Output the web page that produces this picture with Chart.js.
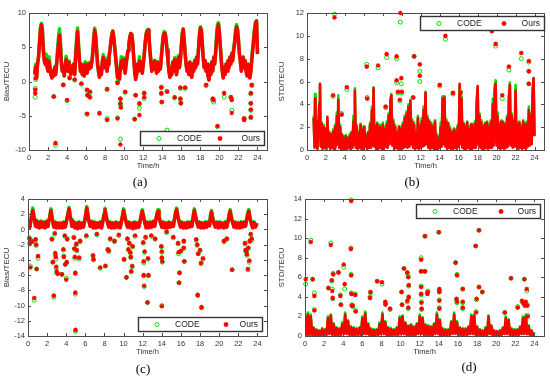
<!DOCTYPE html>
<html>
<head>
<meta charset="utf-8">
<script src="https://cdn.jsdelivr.net/npm/chart.js@4.4.0/dist/chart.umd.min.js"></script>
<style>
  body { margin: 0; width: 550px; height: 384px; background: #fff; position: relative; overflow: hidden; }
  canvas { position: absolute; }
  .tag { position: absolute; font-family: "Liberation Serif", "Times New Roman", serif; font-size: 13px; color: #000; transform: translate(-50%, -50%); will-change: transform; }
</style>
</head>
<body>
<canvas id="chartA" style="left:0;top:0" width="275" height="170"></canvas>
<canvas id="chartB" style="left:275px;top:0" width="275" height="170"></canvas>
<canvas id="chartC" style="left:0;top:186px" width="275" height="170"></canvas>
<canvas id="chartD" style="left:275px;top:186px" width="275" height="170"></canvas>
<div class="tag" style="left:140px;top:182px">(a)</div>
<div class="tag" style="left:412px;top:182px">(b)</div>
<div class="tag" style="left:143px;top:369px">(c)</div>
<div class="tag" style="left:469px;top:367px">(d)</div>
<script>
// -------------------------
// Tick labels
// -------------------------
const xTicks = [0, 2, 4, 6, 8, 10, 12, 14, 16, 18, 20, 22, 24];
const aYTicks = [-10, -5, 0, 5, 10];
const bYTicks = [0, 2, 4, 6, 8, 10, 12];
const cYTicks = [-14, -12, -10, -8, -6, -4, -2, 0, 2, 4];
const dYTicks = [0, 2, 4, 6, 8, 10, 12, 14];

// -------------------------
// (a) Bias - dense band + outliers
// -------------------------
const aTime = [
  0.6,0.7,0.8,0.9,1.0,1.1,1.2,1.3,1.4,1.5,
  1.6,1.7,1.8,1.9,2.0,2.1,2.2,2.3,2.4,2.5,
  2.6,2.7,2.8,2.9,3.0,3.1,3.2,3.3,3.4,3.5,
  3.6,3.7,3.8,3.9,4.0,4.1,4.2,4.3,4.4,4.5,
  4.6,4.7,4.8,4.9,5.0,5.1,5.2,5.3,5.4,5.5,
  5.6,5.7,5.8,5.9,6.0,6.1,6.2,6.3,6.4,6.5,
  6.6,6.7,6.8,6.9,7.0,7.1,7.2,7.3,7.4,7.5,
  7.6,7.7,7.8,7.9,8.0,8.1,8.2,8.3,8.4,8.5,
  8.6,8.7,8.8,8.9,9.0,9.1,9.2,9.3,9.4,9.5,
  9.6,9.7,9.8,9.9,10.0,10.1,10.2,10.3,10.4,10.5,
  10.6,10.7,10.8,10.9,11.0,11.1,11.2,11.3,11.4,11.5,
  11.6,11.7,11.8,11.9,12.0,12.1,12.2,12.3,12.4,12.5,
  12.6,12.7,12.8,12.9,13.0,13.1,13.2,13.3,13.4,13.5,
  13.6,13.7,13.8,13.9,14.0,14.1,14.2,14.3,14.4,14.5,
  14.6,14.7,14.8,14.9,15.0,15.1,15.2,15.3,15.4,15.5,
  15.6,15.7,15.8,15.9,16.0,16.1,16.2,16.3,16.4,16.5,
  16.6,16.7,16.8,16.9,17.0,17.1,17.2,17.3,17.4,17.5,
  17.6,17.7,17.8,17.9,18.0,18.1,18.2,18.3,18.4,18.5,
  18.6,18.7,18.8,18.9,19.0,19.1,19.2,19.3,19.4,19.5,
  19.6,19.7,19.8,19.9,20.0,20.1,20.2,20.3,20.4,20.5,
  20.6,20.7,20.8,20.9,21.0,21.1,21.2,21.3,21.4,21.5,
  21.6,21.7,21.8,21.9,22.0,22.1,22.2,22.3,22.4,22.5,
  22.6,22.7,22.8,22.9,23.0,23.1,23.2,23.3,23.4,23.5,
  23.6,23.7,23.8,23.9,24.0
];
const aOurs = [
  1.0,2.2,0.5,2.5,3.5,5.5,7.5,8.3,7.5,4.5,
  3.0,2.5,3.2,2.0,1.5,3.0,2.0,1.0,0.5,1.5,
  0.8,2.0,1.0,2.5,4.0,5.5,6.8,5.0,2.5,1.5,
  2.2,0.8,2.0,3.2,2.5,1.5,2.8,1.8,1.0,2.2,
  1.5,2.5,1.0,3.5,5.5,7.3,5.0,3.0,1.5,2.5,
  1.0,2.2,0.8,2.5,2.0,1.2,2.5,1.8,2.6,2.0,
  2.8,4.0,6.0,7.5,6.5,4.5,2.5,1.5,0.6,2.0,
  1.0,2.8,3.5,2.0,2.5,3.0,1.5,2.5,3.5,4.5,
  5.8,6.8,7.3,6.5,5.0,3.5,2.0,0.5,1.5,0.3,
  2.0,3.0,2.0,3.2,2.0,1.2,2.5,3.5,4.5,5.5,
  6.5,7.0,6.8,5.5,3.5,1.5,0.3,1.0,2.5,1.5,
  3.0,2.0,2.8,1.2,2.5,3.8,5.5,6.8,7.3,7.5,
  6.5,4.5,3.0,1.5,2.5,1.8,3.0,2.0,1.2,2.8,
  1.5,2.5,1.8,3.5,5.0,6.5,7.0,7.0,6.0,4.5,
  3.0,1.5,0.6,2.0,1.0,2.8,1.5,3.2,2.0,1.0,
  2.5,3.5,2.0,3.0,5.0,6.8,7.6,6.0,4.0,2.5,
  1.5,2.5,1.0,2.8,1.2,0.6,2.5,1.5,3.0,2.0,
  3.5,2.5,4.5,6.5,7.8,7.5,5.5,3.5,2.0,3.0,
  1.5,2.5,0.8,0.2,2.0,1.0,2.8,1.5,3.5,2.5,
  4.0,6.0,7.8,8.3,7.0,5.0,3.0,1.5,0.5,2.0,
  1.0,2.5,1.5,3.0,2.0,3.5,2.5,4.0,3.0,4.5,
  5.5,7.0,8.0,7.5,6.0,4.0,3.0,1.5,2.5,3.5,
  2.0,3.0,1.5,0.8,2.5,1.5,0.5,1.5,3.0,4.5,
  6.0,7.5,8.5,8.8,4.0
];
const aCode = [
  1.2,2.5,0.6,2.7,3.7,5.8,7.8,8.5,7.8,5.0,
  3.8,3.5,4.0,2.5,1.7,3.6,2.4,1.1,0.6,1.6,
  0.9,2.2,1.1,2.7,4.8,6.5,7.7,6.0,3.0,1.6,
  2.4,0.9,2.1,3.7,2.6,1.6,3.0,1.9,1.1,2.3,
  1.6,2.6,1.1,4.3,6.3,7.8,5.6,3.2,1.6,2.6,
  1.1,2.3,0.9,2.9,2.1,1.3,2.7,1.9,2.8,2.1,
  3.0,4.3,6.4,7.8,6.8,4.8,2.7,1.6,0.7,2.1,
  1.1,3.0,3.9,2.1,2.6,3.4,1.6,2.6,3.6,4.6,
  5.9,6.9,7.4,6.6,5.1,3.6,2.1,0.6,1.6,0.4,
  2.5,3.6,2.6,3.5,2.1,1.3,2.6,3.6,4.6,5.6,
  6.6,7.0,6.9,5.6,3.6,1.6,0.4,1.1,2.6,1.6,
  3.6,2.1,2.9,1.3,2.6,3.9,5.7,7.0,7.5,7.6,
  6.6,4.6,3.1,1.6,2.6,1.9,3.1,2.1,1.3,2.9,
  1.6,2.6,1.9,3.7,5.3,6.8,7.3,7.2,6.2,4.7,
  3.1,1.6,0.7,2.1,1.1,2.9,1.6,3.5,2.1,1.1,
  2.6,3.8,2.1,3.4,5.3,7.1,7.7,6.2,4.2,2.6,
  1.6,2.6,1.1,2.9,1.3,0.7,2.6,1.6,3.1,2.1,
  3.6,2.6,4.8,6.9,8.0,7.7,5.7,3.6,2.1,3.1,
  1.6,2.6,0.9,0.3,2.1,1.1,2.9,1.6,3.6,2.6,
  4.5,6.8,8.3,8.6,7.3,5.2,3.1,1.6,0.6,2.1,
  1.1,2.6,1.6,3.1,2.1,3.6,2.6,4.2,3.3,5.0,
  6.0,7.5,8.3,7.8,6.2,4.1,3.1,1.6,2.6,3.6,
  2.1,3.1,1.6,0.9,2.6,1.6,0.6,1.6,3.5,5.0,
  6.5,7.8,8.7,8.9,4.1
];
const aOutT = [
  0.65,0.66,0.7,2.6,2.78,3.6,4.0,4.27,4.8,5.5,
  6.1,6.15,6.1,6.4,6.4,7.4,8.2,8.2,9.3,9.3,
  9.6,9.6,9.65,9.6,10.1,11.2,11.1,11.6,11.6,12.1,
  12.1,13.9,13.95,13.9,14.5,14.5,15.3,15.9,15.9,15.95,
  16.4,18.6,19.3,19.4,19.8,20.5,21.2,21.3,21.3,22.6,
  22.6,23.3,23.3,23.3,23.3,23.4
];
const aOutOurs = [
  -1.7,-1.2,0.5,-2.2,-9.0,-0.5,-2.7,0.5,0.3,-0.3,
  -1.2,-2.0,-4.7,-1.5,-2.3,-4.6,-1.1,-5.6,-5.4,-0.2,
  -2.5,-3.2,-3.8,-9.2,-1.5,-2.0,-5.5,-3.2,-4.9,-1.7,
  -2.3,-1.7,-3.0,-0.9,-1.5,null,-2.3,-0.9,-2.5,-3.2,
  -0.9,-0.5,-2.5,-2.7,-6.5,-1.7,-2.3,-2.7,-4.6,-5.4,
  -5.6,-1.7,-3.2,-4.1,-5.2,-0.5
];
const aOutCode = [
  -2.3,-1.0,0.3,-2.2,-9.3,-0.5,-2.8,0.6,0.2,-0.4,
  -1.3,-2.0,-4.8,-1.6,-2.3,-4.7,-1.2,-5.4,-5.3,-0.1,
  -2.6,-3.3,-3.6,-8.4,-1.6,-2.0,-5.5,-3.3,-3.9,-1.7,
  -2.5,-1.8,-3.0,-0.8,-1.4,-7.1,-2.4,-1.0,-2.6,-3.1,
  -1.0,-0.6,-2.7,-3.0,-6.6,-2.3,-2.3,-2.6,-4.2,-5.4,
  -5.5,-1.8,-3.2,-4.2,-5.3,-0.6
];

// -------------------------
// (b) STD - dense band + outliers
// -------------------------
const bTime = [
  0.7,0.8,0.85,0.9,1.0,1.1,1.2,1.3,1.37,1.45,
  1.55,1.65,1.75,1.85,1.95,2.05,2.15,2.25,2.35,2.45,
  2.55,2.65,2.75,2.85,2.95,3.05,3.15,3.25,3.3,3.4,
  3.5,3.6,3.7,3.8,3.9,4.0,4.1,4.2,4.3,4.4,
  4.5,4.6,4.7,4.8,4.9,5.0,5.05,5.15,5.25,5.35,
  5.45,5.55,5.65,5.75,5.85,5.95,6.05,6.15,6.25,6.35,
  6.45,6.55,6.65,6.75,6.85,6.95,7.02,7.1,7.2,7.3,
  7.4,7.5,7.6,7.7,7.8,7.9,8.0,8.1,8.2,8.3,
  8.4,8.5,8.6,8.7,8.8,8.9,9.0,9.1,9.2,9.3,
  9.4,9.5,9.6,9.7,9.8,9.9,10.0,10.1,10.2,10.3,
  10.4,10.5,10.6,10.7,10.8,10.9,11.0,11.1,11.2,11.3,
  11.4,11.5,11.6,11.7,11.8,11.9,12.0,12.1,12.2,12.3,
  12.4,12.5,12.6,12.7,12.8,12.9,13.0,13.1,13.2,13.3,
  13.4,13.5,13.6,13.7,13.8,13.9,14.0,14.1,14.2,14.3,
  14.4,14.5,14.6,14.7,14.8,14.9,15.0,15.1,15.2,15.3,
  15.4,15.5,15.6,15.7,15.8,15.9,16.0,16.1,16.2,16.3,
  16.4,16.5,16.6,16.7,16.8,16.9,17.0,17.1,17.2,17.3,
  17.4,17.5,17.6,17.7,17.8,17.9,18.0,18.1,18.2,18.3,
  18.4,18.5,18.6,18.7,18.8,18.9,19.0,19.1,19.2,19.3,
  19.4,19.5,19.6,19.7,19.8,19.9,20.0,20.1,20.2,20.3,
  20.4,20.5,20.6,20.7,20.8,20.9,21.0,21.1,21.2,21.3,
  21.4,21.5,21.6,21.7,21.8,21.9,22.0,22.1,22.2,22.3,
  22.4,22.5,22.6,22.7,22.8,22.9,23.0,23.1,23.2,23.3,
  23.4,23.5,23.6,23.7,23.8,23.9,24.0
];
const bOurs = [
  2.8,0.2,4.5,0.5,2.5,0.1,2.0,4.0,5.8,0.3,
  2.3,0.1,2.0,0.2,1.8,0.1,2.9,0.3,1.5,0.1,
  1.3,0.2,1.6,0.1,2.0,0.3,3.0,0.5,4.4,0.2,
  2.0,0.1,1.3,0.1,1.0,0.1,1.2,0.0,1.0,0.2,
  1.2,0.0,1.5,0.2,2.5,0.5,5.2,0.2,2.0,0.1,
  1.5,0.2,2.2,0.1,1.8,0.1,2.0,0.3,1.2,0.1,
  1.5,0.2,2.2,0.2,3.5,0.4,5.4,0.3,2.0,0.1,
  2.3,0.1,2.0,0.2,1.5,0.1,2.2,0.0,1.8,0.3,
  2.2,0.2,3.0,0.5,4.2,4.8,0.4,2.5,0.1,2.0,
  0.2,1.5,0.1,2.0,0.1,1.8,0.1,2.2,0.2,2.8,
  0.3,3.2,0.2,3.8,0.3,4.3,0.5,2.5,0.2,2.2,
  0.1,1.5,0.2,2.8,0.1,2.0,0.2,2.5,0.3,3.5,
  0.4,5.0,0.5,2.8,0.2,2.5,0.1,2.2,0.2,2.0,
  0.1,2.5,0.1,1.2,0.0,1.0,0.2,2.0,0.3,4.5,
  0.5,4.6,0.3,2.5,0.1,2.3,0.2,1.8,0.1,1.5,
  0.1,1.8,0.2,1.6,0.1,2.0,0.3,5.8,0.5,4.5,
  0.2,2.3,0.1,2.0,0.1,2.4,0.2,1.8,0.1,2.2,
  0.1,1.9,0.2,2.3,0.2,4.0,5.6,0.4,3.0,0.2,
  2.4,0.1,2.0,0.1,2.3,0.2,2.4,0.1,2.0,0.2,
  2.5,0.2,4.0,0.4,5.2,5.8,0.4,3.0,0.2,2.2,
  0.1,2.5,0.2,2.4,0.1,2.2,0.2,2.8,0.3,4.5,
  5.7,0.4,3.0,0.2,2.5,0.3,5.2,0.3,2.2,0.1,
  2.4,0.2,2.0,0.1,2.5,0.2,2.2,0.1,2.3,0.3,
  3.5,0.4,3.0,0.5,5.0,6.3,1.2
];
const bCode = [
  3.0,0.3,4.9,0.6,2.7,0.2,2.2,4.2,5.7,0.4,
  2.4,0.2,2.2,0.3,1.9,0.2,2.6,0.4,1.6,0.2,
  1.4,0.3,1.8,0.2,2.2,0.4,3.3,0.6,4.8,0.3,
  2.2,0.2,1.4,0.1,1.2,0.1,1.3,0.1,1.1,0.2,
  1.4,0.1,1.6,0.3,3.0,0.6,5.4,0.3,2.2,0.2,
  1.6,0.2,2.3,0.2,2.0,0.2,2.1,0.3,1.4,0.1,
  1.6,0.3,2.4,0.3,3.8,0.5,5.5,0.4,2.2,0.2,
  2.4,0.2,2.2,0.3,1.7,0.2,2.4,0.1,2.0,0.4,
  2.5,0.3,3.2,0.6,4.4,4.9,0.5,2.7,0.2,2.2,
  0.2,1.7,0.2,2.1,0.2,2.0,0.2,2.4,0.3,3.0,
  0.4,3.4,0.3,4.0,0.4,4.4,0.6,2.7,0.2,2.4,
  0.2,1.7,0.3,3.0,0.2,2.2,0.3,2.8,0.4,3.8,
  0.5,5.1,0.6,3.0,0.3,2.6,0.2,2.4,0.2,2.2,
  0.2,2.6,0.1,1.4,0.1,1.2,0.3,2.4,0.4,4.7,
  0.6,4.7,0.4,2.7,0.2,2.4,0.2,2.0,0.2,1.6,
  0.2,1.9,0.3,1.8,0.2,2.2,0.4,5.6,0.6,4.7,
  0.3,2.4,0.2,2.2,0.2,2.5,0.2,2.0,0.2,2.3,
  0.1,2.0,0.3,2.5,0.3,4.2,5.5,0.5,3.2,0.3,
  2.6,0.2,2.2,0.2,2.4,0.3,2.5,0.2,2.2,0.2,
  2.6,0.3,4.5,0.5,5.6,6.1,0.5,3.3,0.3,2.4,
  0.2,2.6,0.3,2.5,0.2,2.3,0.3,3.0,0.4,4.8,
  5.9,0.5,3.2,0.3,2.6,0.4,5.7,0.4,2.4,0.2,
  2.5,0.2,2.2,0.2,2.6,0.3,2.4,0.2,2.5,0.4,
  3.8,0.5,3.2,0.6,5.3,6.2,1.4
];
const bOutT = [
  2.75,2.9,3.65,4.2,6.3,6.35,7.5,8.3,8.4,9.45,
  9.45,9.6,9.85,9.95,9.8,10.0,11.2,11.3,11.9,11.9,
  14.0,14.6,15.4,16.2,19.5,19.9,20.6,21.3,22.6,23.4,
  23.4,23.4
];
const bOutOurs = [
  4.8,11.6,3.1,5.5,7.3,4.5,7.4,3.8,8.4,8.2,
  6.1,5.1,12.0,6.3,4.4,5.1,4.6,8.2,7.5,6.5,
  5.7,10.0,5.0,5.0,10.4,9.3,4.8,7.3,8.5,7.8,
  6.9,5.8
];
const bOutCode = [
  4.7,11.9,3.2,5.3,7.5,4.6,7.2,3.7,8.1,8.0,
  5.9,5.0,11.2,5.8,4.3,5.0,4.6,8.2,6.9,6.0,
  5.6,9.7,4.9,5.1,10.5,9.1,4.5,7.0,8.0,7.7,
  6.9,5.8
];

// -------------------------
// (c) Bias - dense band + outliers
// -------------------------
const cTime = [
  0.0,0.1,0.2,0.3,0.4,0.5,0.6,0.7,0.8,0.9,
  1.0,1.1,1.2,1.35,1.5,1.65,1.8,1.95,2.1,2.2,
  2.3,2.4,2.5,2.6,2.7,2.85,3.0,3.15,3.3,3.45,
  3.6,3.75,3.9,4.05,4.15,4.3,4.4,4.5,4.6,4.75,
  4.9,5.05,5.2,5.35,5.5,5.65,5.8,5.95,6.05,6.15,
  6.25,6.35,6.5,6.65,6.8,6.95,7.1,7.25,7.4,7.55,
  7.7,7.85,7.95,8.05,8.15,8.3,8.45,8.6,8.75,8.9,
  9.05,9.2,9.35,9.5,9.65,9.8,9.9,10.0,10.1,10.25,
  10.4,10.55,10.7,10.85,11.0,11.15,11.3,11.45,11.6,11.75,
  11.85,11.95,12.05,12.2,12.35,12.5,12.65,12.8,12.95,13.1,
  13.25,13.4,13.5,13.6,13.7,13.85,14.0,14.15,14.3,14.45,
  14.6,14.75,14.9,15.05,15.2,15.35,15.45,15.55,15.65,15.8,
  15.95,16.1,16.25,16.4,16.55,16.7,16.85,17.0,17.15,17.3,
  17.4,17.5,17.65,17.8,17.95,18.1,18.25,18.4,18.55,18.7,
  18.85,19.0,19.1,19.2,19.3,19.45,19.6,19.75,19.9,20.05,
  20.2,20.35,20.5,20.65,20.8,20.95,21.05,21.15,21.25,21.4,
  21.55,21.7,21.85,22.0,22.15,22.3,22.45,22.6,22.75,22.9,
  23.0,23.1,23.2,23.35,23.5,23.65,23.8,23.95
];
const cOurs = [
  0.5,1.0,0.3,1.2,1.8,2.5,1.8,1.0,0.4,1.1,
  0.3,0.9,0.2,1.0,0.3,0.9,0.2,1.0,0.4,1.3,
  1.8,2.5,1.6,1.0,0.3,0.9,0.2,0.8,0.2,0.8,
  0.2,0.9,0.3,1.2,1.8,2.7,1.8,1.2,0.4,1.0,
  0.2,0.8,0.1,0.9,0.2,0.8,0.3,1.2,2.0,2.8,
  2.0,1.2,0.4,1.0,0.2,0.9,0.2,0.8,0.3,0.9,
  0.2,1.2,1.9,2.6,1.8,1.0,0.3,0.9,0.2,0.8,
  0.2,0.9,0.3,0.8,0.2,1.2,1.8,2.5,1.8,1.0,
  0.3,0.9,0.2,0.8,0.1,0.9,0.2,0.8,0.3,1.2,
  1.8,2.4,1.8,1.0,0.2,0.9,0.2,0.9,0.3,1.0,
  0.4,1.4,2.0,2.4,1.6,0.9,0.3,0.9,0.2,0.8,
  0.2,0.9,0.3,0.8,0.4,1.5,2.2,2.6,1.8,1.0,
  0.3,0.9,0.2,0.8,0.2,0.9,0.3,0.9,0.4,1.8,
  2.5,1.8,1.0,0.3,0.9,0.2,0.8,0.2,0.9,0.3,
  0.9,0.5,1.8,2.3,1.5,0.8,0.3,0.9,0.2,0.9,
  0.3,0.8,0.2,0.9,0.3,1.2,1.9,2.4,1.6,0.9,
  0.3,0.9,0.2,0.8,0.2,0.9,0.3,0.9,0.4,1.4,
  2.0,2.4,1.5,0.8,0.2,0.9,0.3,0.8
];
const cCode = [
  0.6,1.1,0.4,1.4,2.1,2.8,2.0,1.3,0.5,1.2,
  0.4,1.0,0.3,1.1,0.4,1.0,0.3,1.1,0.5,1.4,
  2.0,2.7,1.8,1.1,0.4,1.0,0.3,0.9,0.3,0.9,
  0.3,1.0,0.4,1.3,2.0,2.9,2.0,1.3,0.5,1.1,
  0.3,0.9,0.2,1.0,0.3,0.9,0.4,1.3,2.2,3.0,
  2.2,1.3,0.5,1.1,0.3,1.0,0.3,0.9,0.4,1.0,
  0.3,1.3,2.1,2.8,2.0,1.1,0.4,1.0,0.3,0.9,
  0.3,1.0,0.4,0.9,0.3,1.3,2.0,2.7,2.0,1.1,
  0.4,1.0,0.3,0.9,0.2,1.0,0.3,0.9,0.4,1.3,
  2.0,2.6,2.0,1.1,0.3,1.0,0.3,1.0,0.4,1.1,
  0.5,1.5,2.2,2.6,1.8,1.0,0.4,1.0,0.3,0.9,
  0.3,1.0,0.4,0.9,0.5,1.7,2.4,2.8,2.0,1.1,
  0.4,1.0,0.3,0.9,0.3,1.0,0.4,1.0,0.5,2.0,
  2.7,2.0,1.1,0.4,1.0,0.3,0.9,0.3,1.0,0.4,
  1.0,0.6,2.0,2.5,1.7,0.9,0.4,1.0,0.3,1.0,
  0.4,0.9,0.3,1.0,0.4,1.3,2.1,2.6,1.8,1.0,
  0.4,1.0,0.3,0.9,0.3,1.0,0.4,1.0,0.5,1.6,
  2.3,2.6,1.8,0.9,0.3,1.0,0.4,0.9
];
const cOutT = [
  0.15,0.2,0.25,0.45,0.65,0.8,0.85,0.9,1.05,2.5,
  2.6,2.7,2.8,2.85,2.9,2.95,3.0,3.1,3.55,3.7,
  3.75,3.85,3.9,4.0,4.05,4.1,4.8,4.85,4.9,4.95,
  4.95,4.97,5.05,5.1,5.35,5.45,6.1,6.8,6.85,7.2,
  7.55,8.1,8.35,8.45,8.6,9.05,9.5,10.05,10.3,10.4,
  10.5,10.6,10.7,10.75,10.8,10.9,10.95,11.2,12.05,12.1,
  12.1,12.15,12.2,12.3,12.5,12.55,12.6,12.9,13.3,13.95,
  14.0,14.0,14.05,14.0,14.5,15.2,15.7,15.75,15.8,15.85,
  16.0,16.3,16.35,16.3,17.6,17.7,17.8,17.75,18.1,18.15,
  18.3,18.0,20.5,20.8,21.35,22.7,22.75,22.85,22.9,23.0,
  23.05,23.15,23.2,23.4,23.3
];
const cOutOurs = [
  -1.2,-1.8,-5.0,-1.6,-9.0,-1.3,-2.0,-5.2,-3.5,-1.3,
  -4.3,-8.7,-0.5,-3.1,-3.6,-4.9,-5.5,-5.8,-5.9,-2.6,
  -3.6,-0.8,-4.6,-6.6,-4.3,-1.3,-1.1,-2.5,-3.6,-8.3,
  -5.7,-13.2,-1.9,-2.7,-3.7,-1.5,-0.8,-3.4,-3.9,-0.6,
  -5.0,-4.8,-2.6,-2.8,-1.2,-1.5,-0.7,-3.9,-6.3,-1.2,
  -2.6,-1.8,-3.0,-3.6,-5.5,-4.8,-2.2,-0.8,-1.7,-4.2,
  -6.0,-7.4,-2.9,-1.0,-9.6,-3.8,-6.0,-0.8,-1.2,-2.2,
  -2.9,-3.7,-4.2,-10.1,-0.3,-1.0,-1.8,-3.0,-7.0,-5.7,
  -2.8,-2.4,-4.2,-1.5,-1.3,-2.0,-3.2,-8.6,-4.4,-10.2,
  -3.8,-2.7,-1.5,-1.2,-5.3,-1.8,-2.7,-2.9,-3.3,-5.2,
  -2.4,-4.1,-1.5,-1.2,-0.6
];
const cOutCode = [
  -1.1,-1.9,-4.8,-1.5,-9.3,-1.4,-2.1,-5.2,-3.8,-1.2,
  -4.3,-8.9,-0.6,-3.3,-3.9,-5.1,-5.7,-5.8,-5.9,-2.7,
  -3.5,-0.9,-4.6,-6.4,-4.4,-1.2,-1.0,-2.6,-3.8,-8.5,
  -5.8,-13.4,-2.0,-2.8,-3.9,-1.6,-0.9,-3.5,-4.0,-0.7,
  -5.1,-4.8,-2.7,-2.9,-1.3,-1.6,-0.8,-4.0,-6.3,-1.3,
  -2.7,-1.9,-3.1,-3.7,-5.6,-4.9,-2.3,-0.9,-1.8,-4.4,
  -6.1,-7.5,-3.0,-1.1,-9.6,-3.9,-6.1,-0.9,-1.3,-2.3,
  -3.0,-3.8,-4.3,-10.0,-0.4,-1.1,-1.9,-3.2,-7.0,-5.7,
  -2.9,-2.5,-4.2,-1.6,-1.4,-2.1,-3.2,-8.7,-4.5,-10.3,
  -3.9,-2.8,-1.6,-1.3,-5.3,-1.9,-2.8,-3.0,-3.4,-5.3,
  -2.5,-4.3,-1.6,-1.4,-0.7
];

// -------------------------
// (d) STD - dense band + outliers
// -------------------------
const dTime = [
  0.0,0.15,0.3,0.45,0.6,0.75,0.9,1.05,1.2,1.35,
  1.5,1.65,1.8,1.95,2.1,2.25,2.4,2.55,2.7,2.85,
  3.0,3.15,3.3,3.45,3.6,3.75,3.9,4.05,4.2,4.35,
  4.5,4.65,4.8,4.95,5.1,5.25,5.4,5.55,5.7,5.85,
  6.0,6.15,6.3,6.45,6.6,6.75,6.9,7.05,7.2,7.35,
  7.5,7.65,7.8,7.95,8.1,8.25,8.4,8.55,8.7,8.85,
  9.0,9.15,9.3,9.45,9.6,9.75,9.9,10.05,10.2,10.35,
  10.5,10.65,10.8,10.95,11.1,11.25,11.4,11.55,11.7,11.85,
  12.0,12.15,12.3,12.45,12.6,12.75,12.9,13.05,13.2,13.35,
  13.5,13.65,13.8,13.95,14.1,14.25,14.4,14.55,14.7,14.85,
  15.0,15.15,15.3,15.45,15.6,15.75,15.9,16.05,16.2,16.35,
  16.5,16.65,16.8,16.95,17.1,17.25,17.4,17.55,17.7,17.85,
  18.0,18.15,18.3,18.45,18.6,18.75,18.9,19.05,19.2,19.35,
  19.5,19.65,19.8,19.95,20.1,20.25,20.4,20.55,20.7,20.85,
  21.0,21.15,21.3,21.45,21.6,21.75,21.9,22.05,22.2,22.35,
  22.5,22.65,22.8,22.95,23.1,23.25,23.4,23.55,23.7,23.85,
  24.0
];
const dOurs = [
  2.0,0.1,2.2,0.1,2.0,0.1,0.8,0.0,0.6,0.1,
  0.5,0.0,0.7,0.1,0.6,0.1,1.8,0.2,2.1,0.1,
  1.2,0.0,0.8,0.1,0.7,0.1,1.2,0.2,2.2,0.2,
  1.5,0.1,0.9,0.0,0.8,0.1,0.7,0.1,0.8,0.1,
  1.8,0.2,2.3,0.2,1.2,0.1,0.7,0.0,0.6,0.1,
  0.6,0.1,1.2,0.2,2.2,0.2,1.4,0.1,0.8,0.0,
  0.7,0.1,0.6,0.1,0.8,0.1,1.8,0.2,2.0,0.2,
  1.3,0.1,1.0,0.0,1.1,0.1,0.9,0.1,1.2,0.2,
  2.0,0.2,1.8,0.1,1.1,0.1,1.0,0.0,0.9,0.1,
  1.2,0.2,2.2,0.2,1.6,0.1,0.7,0.0,0.6,0.1,
  0.6,0.1,1.4,0.2,2.2,0.2,1.4,0.1,0.8,0.0,
  0.7,0.1,0.7,0.1,0.9,0.2,2.0,0.2,2.1,0.1,
  0.9,0.0,0.6,0.1,0.5,0.0,0.8,0.1,2.0,0.2,
  1.0,0.0,0.5,0.1,0.5,0.0,0.5,0.1,0.8,0.2,
  1.8,0.2,1.6,0.1,0.7,0.0,0.6,0.1,0.6,0.1,
  0.9,0.2,1.8,0.2,2.0,0.2,1.0,0.0,0.5,0.1,
  0.3
];
const dCode = [
  2.2,0.1,2.4,0.1,2.2,0.1,0.9,0.1,0.7,0.1,
  0.6,0.1,0.8,0.1,0.7,0.2,2.0,0.3,2.2,0.2,
  1.3,0.1,0.9,0.1,0.8,0.1,1.4,0.3,2.4,0.3,
  1.6,0.2,1.0,0.1,0.9,0.1,0.8,0.1,0.9,0.2,
  2.0,0.3,2.5,0.2,1.3,0.1,0.8,0.1,0.7,0.1,
  0.7,0.1,1.4,0.3,2.4,0.2,1.5,0.1,0.9,0.1,
  0.8,0.1,0.7,0.1,0.9,0.2,2.0,0.3,2.1,0.2,
  1.4,0.1,1.1,0.1,1.2,0.1,1.0,0.1,1.3,0.3,
  2.2,0.3,1.9,0.2,1.2,0.1,1.1,0.1,1.0,0.1,
  1.3,0.3,2.4,0.3,1.7,0.1,0.8,0.1,0.7,0.1,
  0.7,0.1,1.5,0.3,2.4,0.3,1.5,0.1,0.9,0.1,
  0.8,0.1,0.8,0.1,1.0,0.2,2.2,0.3,2.2,0.2,
  1.0,0.1,0.7,0.1,0.6,0.1,0.9,0.2,2.1,0.2,
  1.1,0.1,0.6,0.1,0.5,0.1,0.6,0.1,0.9,0.2,
  2.0,0.3,1.7,0.1,0.8,0.1,0.7,0.1,0.7,0.1,
  1.0,0.2,2.0,0.3,2.2,0.2,1.1,0.1,0.6,0.1,
  0.4
];
const dOutT = [
  0.07,0.6,0.8,0.98,0.98,2.45,2.7,2.8,2.85,2.9,
  2.95,3.5,3.7,3.75,4.05,4.15,4.8,4.83,4.83,4.85,
  4.9,5.0,5.25,5.3,6.85,6.8,7.55,8.05,8.4,8.42,
  8.9,10.1,10.15,10.35,10.7,10.8,10.85,10.7,10.8,10.85,
  12.15,12.15,12.15,12.15,12.18,12.2,12.55,12.55,12.8,12.85,
  14.0,14.05,14.05,14.05,14.05,15.75,15.9,15.85,15.9,16.5,
  16.5,16.5,17.85,18.2,18.2,17.95,18.55,17.9,20.9,21.55,
  22.25,22.7,22.85,22.95,23.0,23.1,23.2,23.25,23.3
];
const dOutOurs = [
  5.8,9.6,5.8,4.1,2.6,4.9,9.3,5.7,4.6,3.9,
  6.3,6.5,4.1,3.2,7.3,5.3,8.9,13.8,6.2,4.3,
  3.1,3.1,4.2,2.5,4.5,3.9,5.6,5.5,3.5,3.2,
  2.8,4.5,3.2,6.9,6.5,6.0,5.2,3.6,2.9,4.0,
  7.8,6.6,5.0,4.3,3.4,2.8,10.2,6.6,4.3,4.5,
  10.6,4.8,4.5,3.6,2.8,7.5,6.2,3.8,3.5,4.8,
  3.5,2.9,9.2,10.8,5.0,3.8,4.5,2.4,2.4,5.9,
  2.9,3.6,3.3,5.8,3.1,3.5,4.8,3.1,2.0
];
const dOutCode = [
  5.3,9.8,5.8,4.4,2.7,4.9,9.5,5.6,4.8,3.8,
  6.4,6.5,4.2,3.2,7.0,4.8,9.0,13.9,6.3,4.4,
  3.2,3.0,4.3,2.6,4.4,4.0,5.6,5.3,3.4,3.3,
  2.7,4.5,3.2,6.9,6.4,6.1,5.1,3.5,2.8,3.9,
  8.0,6.6,5.1,4.2,3.5,2.7,10.2,6.6,4.4,4.6,
  10.6,4.7,4.5,3.7,2.9,7.5,6.3,3.7,3.4,4.8,
  3.4,2.8,9.2,10.8,5.0,3.7,4.5,2.5,2.4,5.9,
  3.0,3.5,3.4,5.8,3.2,3.3,4.6,3.2,2.1
];

// -------------------------
// Drawing
// -------------------------
const GREEN = "#00e000";
const RED = "#ff0000";
const AXIS = "#4d4d4d";
const FONT = "'Liberation Sans', Arial, sans-serif";

function pts(t, v) {
  return t.map((x, i) => ({ x: x, y: v[i] }));
}

function drawStar(ctx, x, y, r) {
  ctx.beginPath();
  ctx.moveTo(x - r, y); ctx.lineTo(x + r, y);
  ctx.moveTo(x, y - r); ctx.lineTo(x, y + r);
  const d = r * 0.707;
  ctx.moveTo(x - d, y - d); ctx.lineTo(x + d, y + d);
  ctx.moveTo(x - d, y + d); ctx.lineTo(x + d, y - d);
  ctx.stroke();
}

// box, inner tick marks and the legend
const framePlugin = {
  id: "frame",
  afterDatasetsDraw(chart, args, opts) {
    const { ctx, chartArea: a, scales } = chart;
    ctx.save();
    ctx.strokeStyle = AXIS;
    ctx.lineWidth = 1;
    ctx.beginPath();
    xTicks.forEach(v => {
      const px = Math.round(scales.x.getPixelForValue(v)) + 0.5;
      ctx.moveTo(px, a.bottom); ctx.lineTo(px, a.bottom - 3);
      ctx.moveTo(px, a.top); ctx.lineTo(px, a.top + 3);
    });
    opts.yTicks.forEach(v => {
      const py = Math.round(scales.y.getPixelForValue(v)) + 0.5;
      ctx.moveTo(a.left, py); ctx.lineTo(a.left + 3, py);
      ctx.moveTo(a.right, py); ctx.lineTo(a.right - 3, py);
    });
    ctx.stroke();
    ctx.strokeRect(Math.round(a.left) + 0.5, Math.round(a.top) + 0.5,
      Math.round(a.right - a.left), Math.round(a.bottom - a.top));

    // legend box
    const bx = opts.lx, by = opts.ly, bw = 124, bh = 14;
    ctx.fillStyle = "#fff";
    ctx.fillRect(bx, by, bw, bh);
    ctx.strokeStyle = "#333";
    ctx.lineWidth = 1.4;
    ctx.strokeRect(bx + 0.5, by + 0.5, bw, bh);
    const my = by + bh / 2 + 0.5;
    ctx.lineWidth = 1;
    ctx.strokeStyle = GREEN;
    ctx.beginPath();
    ctx.arc(bx + 19, my, 2, 0, Math.PI * 2);
    ctx.stroke();
    ctx.strokeStyle = RED;
    ctx.lineWidth = 1.3;
    drawStar(ctx, bx + opts.m2, my, 2.4);
    ctx.fillStyle = "#222";
    ctx.font = "8.5px " + FONT;
    ctx.textBaseline = "middle";
    ctx.textAlign = "left";
    ctx.fillText("CODE", bx + 37, my);
    ctx.textAlign = "right";
    ctx.fillText("Ours", bx + bw - 4, my);
    ctx.restore();
  }
};

function makePanel(id, cfg) {
  return new Chart(document.getElementById(id), {
    type: "scatter",
    data: {
      datasets: [
        { label: "Ours", data: pts(cfg.outT, cfg.outOurs), pointStyle: "star",
          pointRadius: 2.3, borderColor: RED, backgroundColor: RED, borderWidth: 1.2, clip: false },
        { label: "CODE", data: pts(cfg.outT, cfg.outCode), pointStyle: "circle",
          pointRadius: 2, borderColor: GREEN, backgroundColor: "rgba(0,0,0,0)", borderWidth: 1, clip: false },
        { label: "Ours band", data: pts(cfg.bandT, cfg.bandOurs), showLine: true,
          borderColor: RED, borderWidth: cfg.lw, pointRadius: 0, tension: 0, borderJoinStyle: "round" },
        { label: "CODE band", data: pts(cfg.bandT, cfg.bandCode), showLine: true,
          borderColor: GREEN, borderWidth: cfg.lw, pointRadius: 0, tension: 0, borderJoinStyle: "round" }
      ]
    },
    options: {
      responsive: false,
      animation: false,
      events: [],
      layout: { padding: { top: 13, right: cfg.padR, left: 0, bottom: 0 } },
      plugins: {
        legend: { display: false },
        tooltip: { enabled: false },
        frame: { yTicks: cfg.yTicks, lx: cfg.lx, ly: cfg.ly, m2: cfg.m2 }
      },
      scales: {
        x: {
          type: "linear", min: 0, max: 25,
          afterBuildTicks: s => { s.ticks = xTicks.map(v => ({ value: v })); },
          afterFit: s => { s.height = 20; },
          grid: { display: false, drawTicks: false },
          border: { display: false },
          ticks: { color: "#333", font: { size: 7.5, family: FONT }, padding: 3, maxRotation: 0, autoSkip: false },
          title: { display: true, text: "Time/h", color: "#333", font: { size: 7.5, family: FONT }, padding: 0 }
        },
        y: {
          type: "linear", min: cfg.yMin, max: cfg.yMax,
          afterBuildTicks: s => { s.ticks = cfg.yTicks.map(v => ({ value: v })); },
          afterFit: s => { s.width = cfg.yw; },
          grid: { display: false, drawTicks: false },
          border: { display: false },
          ticks: { color: "#333", font: { size: 7.5, family: FONT }, padding: 3, autoSkip: false },
          title: { display: true, text: cfg.yTitle, color: "#333", font: { size: 8, family: FONT }, padding: 2 }
        }
      }
    },
    plugins: [framePlugin]
  });
}

makePanel("chartA", {
  bandT: aTime, bandOurs: aOurs, bandCode: aCode,
  outT: aOutT, outOurs: aOutOurs, outCode: aOutCode,
  yMin: -10, yMax: 10, yTicks: aYTicks, yTitle: "Bias/TECU",
  yw: 29, padR: 8, lw: 3.5, lx: 140, ly: 131, m2: 80
});
makePanel("chartB", {
  bandT: bTime, bandOurs: bOurs, bandCode: bCode,
  outT: bOutT, outOurs: bOutOurs, outCode: bOutCode,
  yMin: 0, yMax: 12, yTicks: bYTicks, yTitle: "STD/TECU",
  yw: 32, padR: 6, lw: 2.6, lx: 145, ly: 16, m2: 84
});
makePanel("chartC", {
  bandT: cTime, bandOurs: cOurs, bandCode: cCode,
  outT: cOutT, outOurs: cOutOurs, outCode: cOutCode,
  yMin: -14, yMax: 4, yTicks: cYTicks, yTitle: "Bias/TECU",
  yw: 28, padR: 8, lw: 3.5, lx: 138, ly: 131, m2: 88
});
makePanel("chartD", {
  bandT: dTime, bandOurs: dOurs, bandCode: dCode,
  outT: dOutT, outOurs: dOutOurs, outCode: dOutCode,
  yMin: 0, yMax: 14, yTicks: dYTicks, yTitle: "STD/TECU",
  yw: 30, padR: 6, lw: 2.6, lx: 141, ly: 18, m2: 85
});
</script>
</body>
</html>
